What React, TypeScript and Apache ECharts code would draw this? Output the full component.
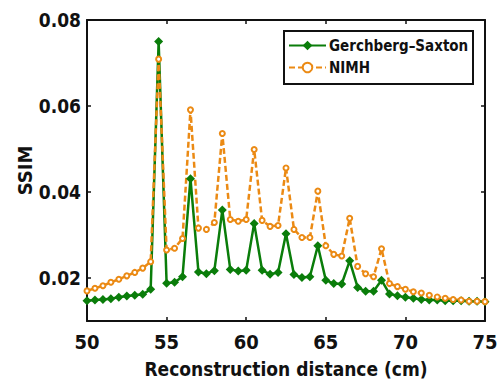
import React, { useEffect, useRef } from "react";
import * as echarts from "echarts";

const distances = [
  50, 50.5, 51, 51.5, 52, 52.5, 53, 53.5, 54, 54.5,
  55, 55.5, 56, 56.5, 57, 57.5, 58, 58.5, 59, 59.5,
  60, 60.5, 61, 61.5, 62, 62.5, 63, 63.5, 64, 64.5,
  65, 65.5, 66, 66.5, 67, 67.5, 68, 68.5, 69, 69.5,
  70, 70.5, 71, 71.5, 72, 72.5, 73, 73.5, 74, 74.5, 75,
];

const gsValues = [
  0.0147, 0.0149, 0.015, 0.0152, 0.0155, 0.0158, 0.016, 0.0162, 0.0174, 0.075,
  0.0188, 0.019, 0.0203, 0.0431, 0.0214, 0.021, 0.0217, 0.0358, 0.022, 0.0216,
  0.0218, 0.0327, 0.0218, 0.0209, 0.0213, 0.0303, 0.0208, 0.0201, 0.0203, 0.0275,
  0.0195, 0.0187, 0.0186, 0.024, 0.0178, 0.0169, 0.0169, 0.0195, 0.0163, 0.0159,
  0.0155, 0.0153, 0.015, 0.0149, 0.0149, 0.0147, 0.0147, 0.0147, 0.0146, 0.0146, 0.0145,
];

const nimhValues = [
  0.017, 0.0176, 0.0182, 0.019, 0.0197, 0.0205, 0.0213, 0.0223, 0.0238, 0.0709,
  0.0265, 0.0269, 0.0292, 0.0591, 0.0316, 0.0313, 0.0329, 0.0536, 0.0336, 0.0332,
  0.0336, 0.0499, 0.0334, 0.032, 0.0322, 0.0456, 0.0313, 0.0294, 0.0294, 0.0402,
  0.0275, 0.0255, 0.0251, 0.0339, 0.0227, 0.021, 0.0203, 0.0268, 0.0187, 0.018,
  0.0174, 0.0168, 0.0165, 0.016, 0.0156, 0.0153, 0.015, 0.0149, 0.0146, 0.0146, 0.0145,
];

const yTicks = [0.02, 0.04, 0.06, 0.08];
const xTicks = [50, 55, 60, 65, 70, 75];

const FONT = "'DejaVu Sans', sans-serif";
const GREEN = "#0a7d0a";
const ORANGE = "#eb8a14";

export default function App() {
  const ref = useRef<HTMLDivElement>(null);
  useEffect(() => {
    if (!ref.current) return;
    const chart = echarts.init(ref.current, null, { renderer: "svg" });
    const axisLine = { show: true, lineStyle: { color: "#111", width: 2 } };
    const tick = { show: true, inside: true, length: 4, lineStyle: { color: "#111", width: 1.5 } };
    const labelStyle = { fontFamily: FONT, fontWeight: "bold" as const, fontSize: 20, color: "#111" };
    chart.setOption({
      animation: false,
      backgroundColor: "#fff",
      grid: { left: 87, right: 18, top: 20, bottom: 62, containLabel: false, outerBoundsMode: "none" },
      graphic: [
        {
          type: "rect",
          z: 3,
          shape: { x: 284, y: 31, width: 189, height: 53 },
          style: { fill: "#fff", stroke: "#111", lineWidth: 2 },
        },
      ],
      legend: {
        orient: "vertical",
        left: 284,
        top: 31,
        padding: [7, 4, 6, 4],
        itemGap: 7,
        itemWidth: 37,
        itemHeight: 12,
        borderWidth: 0,
        z: 5,
        textStyle: { fontFamily: FONT, fontWeight: "bold", fontSize: 15, color: "#111", padding: [0, 0, 0, -2] },
        data: ["Gerchberg\u2013Saxton", "NIMH"],
      },
      xAxis: [
        {
          type: "value",
          min: 50,
          max: 75,
          interval: 5,
          position: "bottom",
          axisLine,
          axisTick: { ...tick, customValues: xTicks },
          axisLabel: { ...labelStyle, margin: 11, customValues: xTicks },
          splitLine: { show: false },
          name: "Reconstruction distance (cm)",
          nameLocation: "middle",
          nameGap: 38,
          nameMoveOverlap: false,
          nameTextStyle: { ...labelStyle, fontSize: 19 },
        },
        {
          type: "value",
          min: 50,
          max: 75,
          interval: 5,
          position: "top",
          axisLine,
          axisTick: { ...tick, customValues: xTicks },
          axisLabel: { show: false },
          splitLine: { show: false },
        },
      ],
      yAxis: [
        {
          type: "value",
          min: 0.01,
          max: 0.08,
          position: "left",
          axisLine,
          axisTick: { ...tick, customValues: yTicks },
          axisLabel: {
            ...labelStyle,
            fontSize: 19,
            margin: 6,
            customValues: yTicks,
            formatter: (v: number) => v.toFixed(2),
          },
          splitLine: { show: false },
          name: "SSIM",
          nameLocation: "middle",
          nameGap: 52,
          nameMoveOverlap: false,
          nameTextStyle: { ...labelStyle, fontSize: 20 },
        },
        {
          type: "value",
          min: 0.01,
          max: 0.08,
          position: "right",
          axisLine,
          axisTick: { ...tick, customValues: yTicks },
          axisLabel: { show: false },
          splitLine: { show: false },
        },
      ],
      series: [
        {
          name: "Gerchberg\u2013Saxton",
          type: "line",
          data: distances.map((d, i) => [d, gsValues[i]]),
          symbol: "diamond",
          symbolSize: 9,
          itemStyle: { color: GREEN },
          lineStyle: { color: GREEN, width: 2.5 },
        },
        {
          name: "NIMH",
          type: "line",
          data: distances.map((d, i) => [d, nimhValues[i]]),
          symbol: "emptyCircle",
          symbolSize: 5,
          itemStyle: { color: ORANGE, borderColor: ORANGE, borderWidth: 3 },
          lineStyle: { color: ORANGE, width: 2.5, type: [6, 3] },
        },
      ],
    });
    return () => chart.dispose();
  }, []);
  return (
    <>
      <style>{"#chartbox text { font-stretch: condensed !important; }"}</style>
      <div id="chartbox" ref={ref} style={{ width: 503, height: 383, position: "absolute", left: 0, top: 0 }} />
    </>
  );
}
